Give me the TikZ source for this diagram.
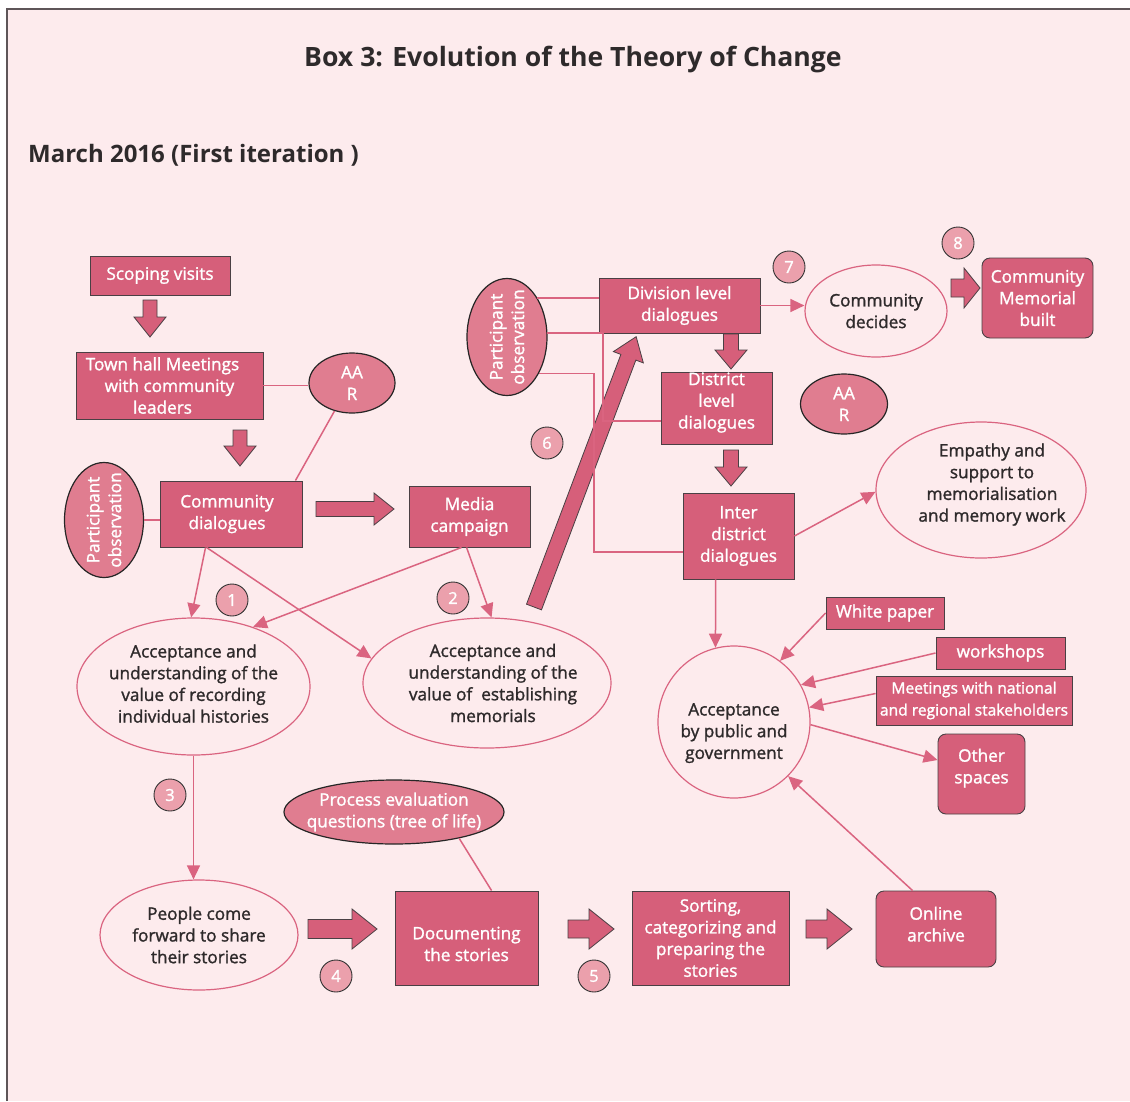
\documentclass[tikz,border=0pt]{standalone}
\usepackage{fontspec}
\setmainfont{Open Sans}
\newfontfamily\bodyf{Open Sans}[FakeBold=1.4]
\usetikzlibrary{arrows.meta,shapes.geometric}
\definecolor{bg}{HTML}{FDEBED}
\definecolor{boxc}{HTML}{D65F7A}
\definecolor{ellc}{HTML}{E07D90}
\definecolor{numc}{HTML}{EBA0AC}
\definecolor{linec}{HTML}{DA6480}
\definecolor{edge}{HTML}{4A4044}
\definecolor{txt}{HTML}{2E2A2B}
\definecolor{frame}{HTML}{5E5558}
\newcommand\bodysize{\bodyf\fontsize{17.2}{21.7}\selectfont}
\newcommand\dn[1]{\rule[-#1]{0pt}{#1}}
\newcommand\up[1]{\rule{0pt}{#1}}
\newcommand\blockarrow[7]{%
\begin{scope}[shift={(#1,#2)}, rotate=#3]
\filldraw[barrow] (0,-#5) -- (#4-#7,-#5) -- (#4-#7,-#6) -- (#4,0) -- (#4-#7,#6) -- (#4-#7,#5) -- (0,#5) -- cycle;
\end{scope}}
\begin{document}
\begin{tikzpicture}[x=1pt,y=-1pt,
  every node/.style={font=\bodysize, align=center, inner sep=0pt},
  box/.style 2 args={draw=edge, line width=0.9pt, fill=boxc, text=white, minimum width=#1, minimum height=#2},
  rbox/.style 2 args={box={#1}{#2}, rounded corners=8pt},
  fell/.style 2 args={ellipse, draw=black!85, line width=1.2pt, fill=ellc, text=white, inner sep=-80pt, minimum width=#1, minimum height=#2},
  well/.style 2 args={ellipse, draw=linec, line width=1.2pt, fill=bg, text=txt, inner sep=-80pt, minimum width=#1, minimum height=#2},
  num/.style={circle, draw=black!80, line width=0.9pt, fill=numc, text=white, minimum size=32pt, font=\bodyf\fontsize{16.5}{18}\selectfont},
  conn/.style={draw=linec, line width=1.5pt},
  arr/.style={conn, -{Triangle[length=14pt,width=13pt]}},
  barrow/.style={fill=boxc, draw=edge, line width=0.8pt}]
\useasboundingbox (0,0) rectangle (1130,1101);
\fill[white] (0,0) rectangle (1130,1101);
\fill[bg] (7,9) rectangle (1130,1101);
\draw[frame, line width=2pt] (7,1101) -- (7,9) -- (1130,9);

\node[font=\fontsize{26.6}{30}\selectfont\bfseries, text=txt] (title) at (573,60) {Box 3: Evolution of the Theory of Change};
\node[anchor=west, font=\fontsize{24}{28}\selectfont\bfseries, text=txt] (sub) at (28,155) {March 2016 (First iteration )};

% boxes
\node[box={140pt}{39pt}] (sv) at (160,275.5) {Scoping visits};
\node[box={187pt}{67pt}] (th) at (169.5,385.5) {Town hall Meetings\hspace*{14pt}\\with community\hspace*{14pt}\\leaders\hspace*{14pt}};
\node[box={142pt}{66pt}] (cd) at (231,514) {Community\hspace*{8pt}\\dialogues\hspace*{8pt}};
\node[box={121pt}{61pt}] (mc) at (469.5,516.5) {Media\\campaign};
\node[box={161pt}{55pt}] (div) at (679.5,305.5) {Division level\\dialogues};
\node[box={111pt}{69pt}] (dist) at (716.5,408.5) {District\\level\\dialogues\dn{16pt}};
\node[box={111pt}{86pt}] (inter) at (738.5,536) {Inter\\district\\dialogues};
\node[rbox={111pt}{80pt}] (mem) at (1037.5,298) {Community\\Memorial\\built};
\node[box={118pt}{32pt}] (wp) at (885,613) {White paper};
\node[box={129pt}{32pt}] (ws) at (1000.5,653) {workshops};
\node[box={196pt}{49pt}, font=\bodyf\fontsize{15.6}{22}\selectfont] (mt) at (974,700.5) {Meetings with national\\and regional stakeholders};
\node[rbox={87pt}{80pt}] (os) at (981.5,774) {Other\\spaces\dn{16pt}};
\node[box={143pt}{94pt}] (doc) at (466.5,938) {\up{24.5pt}Documenting\\the stories};
\node[box={157pt}{94pt}] (sort) at (710.5,938) {Sorting,\\categorizing and\\preparing the\\stories};
\node[rbox={120pt}{76pt}] (oa) at (936,929) {Online\\archive\dn{10pt}};

% filled ellipses
\node[fell={86pt}{60pt}] (aar1) at (352,383) {AA\\R};
\node[fell={87pt}{60pt}] (aar2) at (844,404) {AA\\R};
\node[fell={115pt}{79pt}, rotate=90] (po1) at (104,520) {Participant\\observation};
\node[fell={117pt}{80pt}, rotate=90] (po2) at (507,337) {Participant\\observation};
\node[fell={220pt}{64pt}] (pe) at (394,812) {Process evaluation\\questions (tree of life)};

% white ellipses
\node[well={233pt}{137pt}] (e1) at (193.5,686.5) {Acceptance and\\understanding of the\\value of recording\\individual histories\dn{6pt}};
\node[well={248pt}{130pt}] (e2) at (487,683) {\hspace*{12pt}Acceptance and\\\hspace*{12pt}understanding of the\\\hspace*{12pt}value of \ establishing\\\hspace*{12pt}memorials};
\node[well={198pt}{110pt}] (people) at (199,935) {People come\\forward to share\\their stories};
\node[well={142pt}{92pt}] (cdec) at (876,311) {Community\\decides};
\node[well={210pt}{136pt}] (emp) at (981,490) {\hspace*{22pt}Empathy and\\\hspace*{22pt}support to\\\hspace*{22pt}memorialisation\\\hspace*{22pt}and memory work\dn{15pt}};
\node[well={152pt}{152pt}, circle] (ac) at (734,722) {\up{34.5pt}Acceptance\\by public and\\government};

% number circles
\node[num] (n1) at (232,600) {1};
\node[num] (n2) at (453,598) {2};
\node[num] (n3) at (170,795) {3};
\node[num] (n4) at (336,976) {4};
\node[num] (n5) at (594,976) {5};
\node[num] (n6) at (547,443) {6};
\node[num] (n7) at (789,267) {7};
\node[num] (n8) at (958,243) {8};

% block arrows
\blockarrow{150}{300}{-90}{37}{7}{16}{20}
\blockarrow{240}{430}{-90}{36}{7}{16}{20}
\blockarrow{316}{509}{0}{78}{7.5}{16}{20}
\blockarrow{731}{334}{-90}{35}{7.5}{16}{19}
\blockarrow{731}{450}{-90}{36}{7.5}{16}{19}
\blockarrow{951}{288}{0}{29}{9}{20}{16}
\blockarrow{308}{929}{0}{69}{9.5}{20}{25}
\blockarrow{568}{929}{0}{46}{9}{20}{25}
\blockarrow{806}{929}{0}{46}{9}{20}{25}
\blockarrow{534}{607}{69.3}{289}{8}{16}{22}

% plain connectors
\draw[conn] (th.east) -- (th.east -| aar1.west);
\draw[conn] (aar1.238) -- ([xshift=-7pt]cd.north east);
\draw[conn] (po1.south) -- (po1.south -| cd.west);
\draw[conn] (pe.-22) -- ([xshift=97pt]doc.north west);
\coordinate (k1) at (603,0);
\coordinate (k2) at (594,0);
\draw[conn] (po2.-38) -- (po2.-38 -| div.west);
\draw[conn] (po2.-84) -- (po2.-84 -| k1) |- ([yshift=-12.5pt]dist.west);
\draw[conn] (po2.-139) -- (po2.-139 -| k2) |- ([yshift=-16pt]inter.west);

% arrow connectors
\draw[arr] ([xshift=46pt]cd.south west) -- (e1.92);
\draw[arr] ([xshift=47pt]cd.south west) -- (e2.168);
\draw[arr] ([xshift=53pt]mc.south west) -- (e1.45);
\draw[arr] ([xshift=58pt]mc.south west) -- (e2.86);
\draw[arr] (e1.south) -- (e1.south |- people.north);
\draw[arr] (div.east) -- (div.east -| cdec.west);
\draw[arr] ([xshift=33pt]inter.south west) -- (ac.104);
\draw[arr] (inter.east) -- (emp.181);
\draw[arr] (wp.west) -- (ac.53);
\draw[arr] (ws.west) -- (ac.29);
\draw[arr] ([yshift=7pt]mt.west) -- (ac.11);
\draw[arr] (ac.-2) -- ([yshift=14pt]os.west);
\draw[arr] ([xshift=37pt]oa.north west) -- (ac.-45);
\end{tikzpicture}
\end{document}
